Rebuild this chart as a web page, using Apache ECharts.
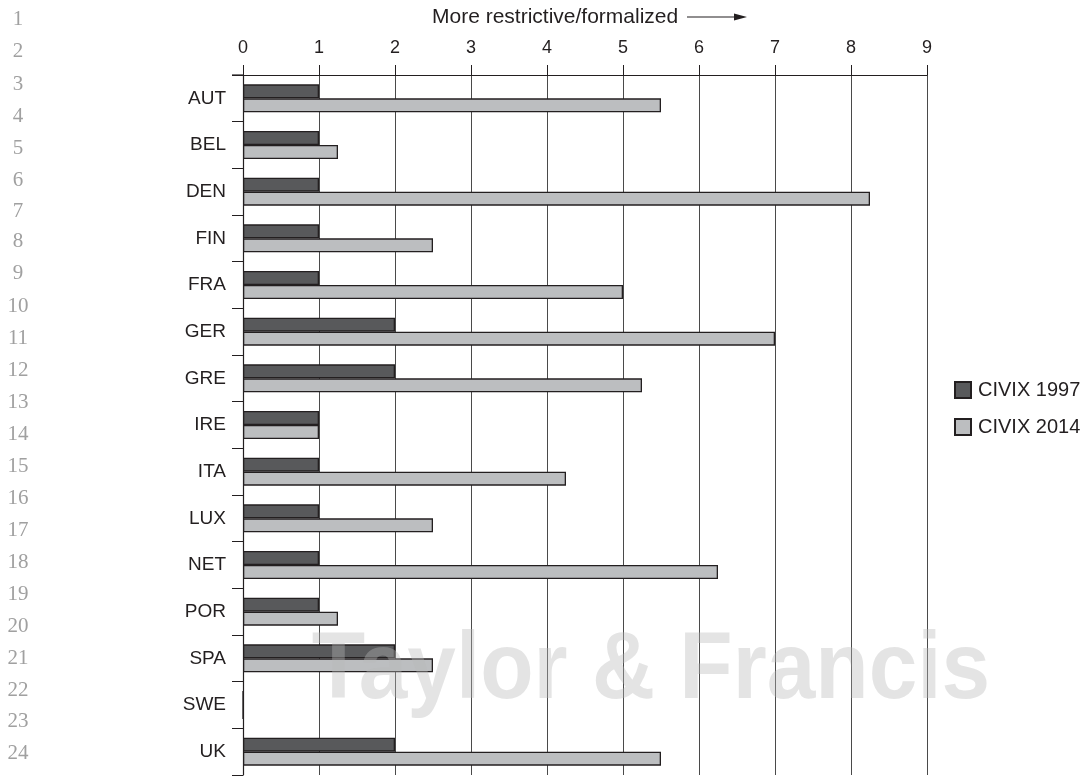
<!DOCTYPE html>
<html>
<head>
<meta charset="utf-8">
<script src="https://cdn.jsdelivr.net/npm/echarts@6/dist/echarts.min.js"></script>
<style>
html,body{margin:0;padding:0;background:#fff;}
#chart{width:1090px;height:776px;}
</style>
</head>
<body>
<div id="chart"></div>
<script>
const categories = ['AUT','BEL','DEN','FIN','FRA','GER','GRE','IRE','ITA','LUX','NET','POR','SPA','SWE','UK'];
const civix1997 = [1, 1, 1, 1, 1, 2, 2, 1, 1, 1, 1, 1, 2, 0, 2];
const civix2014 = [5.5, 1.25, 8.25, 2.5, 5, 7, 5.25, 1, 4.25, 2.5, 6.25, 1.25, 2.5, 0, 5.5];
const xTicks = ['0','1','2','3','4','5','6','7','8','9'];
const seriesNames = ['CIVIX 1997', 'CIVIX 2014'];
const axisTitle = 'More restrictive/formalized';
const lineNumbers = ['1','2','3','4','5','6','7','8','9','10','11','12','13','14','15','16','17','18','19','20','21','22','23','24'];
const watermark = 'Taylor & Francis';

const lineNumberY = [19,51,84,116,148,180,211,241,273,306,338,370,402,434,466,498,530,562,594,626,658,690,721,753];

const FONT = '"Liberation Sans", Arial, Helvetica, sans-serif';

const chart = echarts.init(document.getElementById('chart'), null, {renderer: 'canvas'});

const graphics = [];
lineNumbers.forEach((t, i) => {
  graphics.push({
    type: 'text', x: 18, y: lineNumberY[i], z: 10,
    style: {text: t, fill: '#a0a0a0', font: '21px "Liberation Serif", "Times New Roman", serif',
            textAlign: 'center', textVerticalAlign: 'middle'}
  });
});
graphics.push({
  type: 'text', x: 432, y: 17, z: 10,
  style: {text: axisTitle, fill: '#231f20', font: '21px ' + FONT, textAlign: 'left', textVerticalAlign: 'middle'}
});
graphics.push({
  type: 'line', z: 10,
  shape: {x1: 687, y1: 17, x2: 738, y2: 17},
  style: {stroke: '#231f20', lineWidth: 1.2}
});
graphics.push({
  type: 'polygon', z: 10,
  shape: {points: [[734, 13.5], [747, 17], [734, 20.5]]},
  style: {fill: '#231f20'}
});
graphics.push({
  type: 'line', z: 10,
  shape: {x1: 232, y1: 75, x2: 243, y2: 75},
  style: {stroke: '#231f20', lineWidth: 1.2}
});
graphics.push({
  type: 'text', x: 651, y: 672, z: 100, scaleX: 0.92,
  style: {text: watermark, fill: 'rgba(185,185,185,0.38)',
          font: 'bold 95px ' + FONT, textAlign: 'center', textVerticalAlign: 'middle'}
});

const option = {
  animation: false,
  backgroundColor: '#ffffff',
  grid: {left: 243, right: 163, top: 75, bottom: 1, containLabel: false},
  legend: {
    orient: 'vertical', left: 954, top: 380, padding: 0,
    itemWidth: 16, itemHeight: 16, itemGap: 17,
    icon: 'rect',
    textStyle: {fontFamily: FONT, fontSize: 20, color: '#231f20', padding: [0, 0, 0, 2]},
    data: seriesNames
  },
  xAxis: {
    type: 'value', position: 'top', min: 0, max: 9, interval: 1,
    axisLine: {show: true, lineStyle: {color: '#231f20', width: 1.2}},
    axisTick: {show: true, length: 10, lineStyle: {color: '#231f20', width: 1}},
    axisLabel: {margin: 18, fontFamily: FONT, fontSize: 18, color: '#231f20',
                formatter: v => xTicks[Math.round(v)]},
    splitLine: {show: true, lineStyle: {color: '#4a4a4a', width: 1}}
  },
  yAxis: {
    type: 'category', inverse: true, data: categories,
    axisLine: {show: true, lineStyle: {color: '#231f20', width: 1.2}},
    axisTick: {show: true, length: 11, lineStyle: {color: '#231f20', width: 1}},
    axisLabel: {margin: 17, fontFamily: FONT, fontSize: 19, color: '#231f20'}
  },
  series: [
    {
      name: seriesNames[0], type: 'bar', data: civix1997, barWidth: 14, barGap: '0%',
      itemStyle: {color: '#58595b', borderColor: '#231f20', borderWidth: 1.3}
    },
    {
      name: seriesNames[1], type: 'bar', data: civix2014, barWidth: 14, barGap: '0%',
      itemStyle: {color: '#bcbec0', borderColor: '#231f20', borderWidth: 1.3}
    }
  ],
  graphic: graphics
};
chart.setOption(option);
</script>
</body>
</html>
